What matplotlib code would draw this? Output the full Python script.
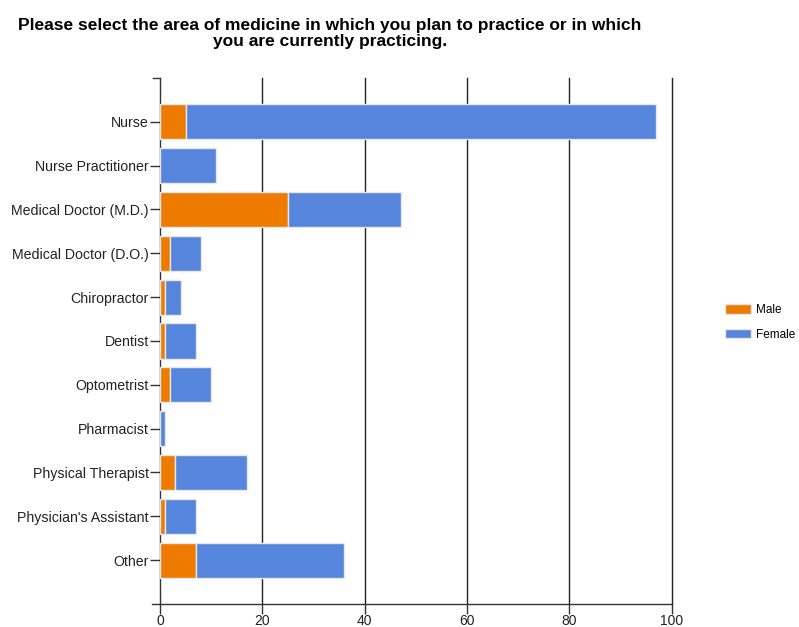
import numpy as np
import matplotlib.pyplot as plt

areas = ["Nurse", "Nurse Practitioner", "Medical Doctor (M.D.)", "Medical Doctor (D.O.)",
         "Chiropractor", "Dentist", "Optometrist", "Pharmacist", "Physical Therapist",
         "Physician's Assistant", "Other"]
male = [5, 0, 25, 2, 1, 1, 2, 0, 3, 1, 7]
female = [92, 11, 22, 6, 3, 6, 8, 1, 14, 6, 29]
xticks = [0, 20, 40, 60, 80, 100]

plt.rcParams['font.family'] = ['Liberation Sans', 'DejaVu Sans']

fig = plt.figure(figsize=(7.99, 6.27), dpi=100)
ax = fig.add_axes([0.2003, 0.0367, 0.6405, 0.8389])

y = np.arange(len(areas))
ax.barh(y, male, height=0.8, color='#EE7A00', edgecolor='#e8e8e8', linewidth=1,
        label='Male', zorder=3)
ax.barh(y, female, left=male, height=0.8, color='#5585DC', edgecolor='#e8e8e8',
        linewidth=1, label='Female', zorder=3)

ax.set_ylim(11, -1)
ax.set_xlim(0, 100)
ax.set_yticks(y)
ax.set_yticklabels(areas, fontsize=10.2, color='#222222')
ax.set_xticks(xticks)
ax.set_xticklabels([str(v) for v in xticks], fontsize=10, color='#222222')
ax.tick_params(axis='y', length=7, width=1, color='#333333', pad=1)
ax.tick_params(axis='x', length=7, width=1, color='#333333', pad=0)

# vertical grid lines, including the one at 100 on the right edge
for v in xticks[1:]:
    ax.axvline(v, color='#222222', linewidth=1, zorder=0, clip_on=False)

for side in ['top', 'right']:
    ax.spines[side].set_visible(False)
for side in ['left', 'bottom']:
    ax.spines[side].set_color('#333333')
    ax.spines[side].set_linewidth(1)
ax.spines['bottom'].set_bounds(-1.5, 100)
ax.spines['left'].set_bounds(-1, 11)
ax.plot([-1.4, 0], [-1, -1], color='#333333', linewidth=1, clip_on=False)

ax.legend(loc='center left', bbox_to_anchor=(1.083, 0.535), frameon=False,
          fontsize=8.5, handlelength=2.2, handleheight=0.8, labelspacing=1.1,
          handletextpad=0.4)

fig.text(0.413, 0.972, "Please select the area of medicine in which you plan to practice or in which\nyou are currently practicing.",
         ha='center', va='top', fontsize=12.5, fontweight='bold', linespacing=1.15)

fig.savefig('out.png', dpi=100)
